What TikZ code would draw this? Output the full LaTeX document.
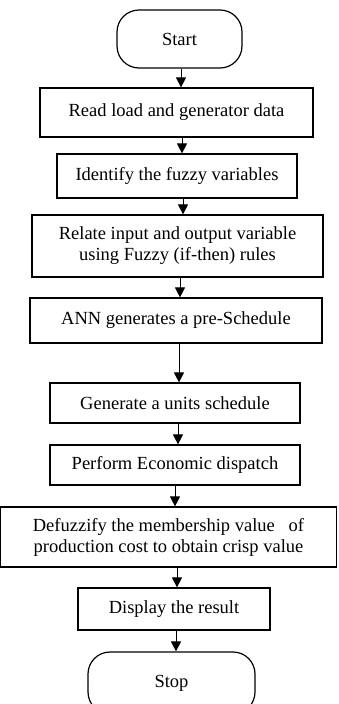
\documentclass[tikz,border=0pt]{standalone}
\usepackage{fontspec}
\setmainfont{Liberation Serif}
\usetikzlibrary{arrows.meta}
\begin{document}
\begin{tikzpicture}[x=1pt,y=-1pt,
  box/.style={draw,line width=1.2pt,minimum width=#1,inner sep=0pt,align=center,font=\fontsize{18.5}{21}\selectfont},
  term/.style={draw,line width=1.2pt,rounded corners=22pt,minimum width=#1,inner sep=0pt,font=\fontsize{18.5}{21}\selectfont},
  arr/.style={line width=1pt,-{Triangle[width=10pt,length=10pt]}}]
\clip (0,0) rectangle (339,704);
\fill[white] (0,0) rectangle (339,704);
\node[term=125pt,minimum height=58pt] (start) at (179.5,39) {Start};
\node[box=273pt,minimum height=49pt] (b1) at (176.5,112.5) {Read load and generator data};
\node[box=240pt,minimum height=44pt] (b2) at (177,176) {Identify the fuzzy variables};
\node[box=291pt,minimum height=62pt] (b3) at (177.5,246) {Relate input and output variable\\using Fuzzy (if-then) rules};
\node[box=292pt,minimum height=45pt] (b4) at (176,320.5) {ANN generates a pre-Schedule};
\node[box=250pt,minimum height=40pt] (b5) at (175,403) {Generate a units schedule};
\node[box=250pt,minimum height=40pt] (b6) at (175,465) {Perform Economic dispatch};
\node[box=336pt,minimum height=60pt] (b7) at (168.5,537) {Defuzzify the membership value\ \ \ of\\production cost to obtain crisp value};
\node[box=192pt,minimum height=42pt] (b8) at (174,609) {Display the result};
\node[term=167pt,minimum height=62pt] (stop) at (171.5,683) {Stop};
\draw[arr] (start.south -| 181,0) -- (b1.north -| 181,0);
\draw[arr] (b1.south -| 182,0) -- (b2.north -| 182,0);
\draw[arr] (b2.south -| 183,0) -- (b3.north -| 183,0);
\draw[arr] (b3.south -| 180,0) -- (b4.north -| 180,0);
\draw[arr] (b4.south -| 179,0) -- (b5.north -| 179,0);
\draw[arr] (b5.south -| 178,0) -- (b6.north -| 178,0);
\draw[arr] (b6.south -| 175,0) -- (b7.north -| 175,0);
\draw[arr] (b7.south -| 177,0) -- (b8.north -| 177,0);
\draw[arr] (b8.south -| 176,0) -- (stop.north -| 176,0);
\end{tikzpicture}
\end{document}
